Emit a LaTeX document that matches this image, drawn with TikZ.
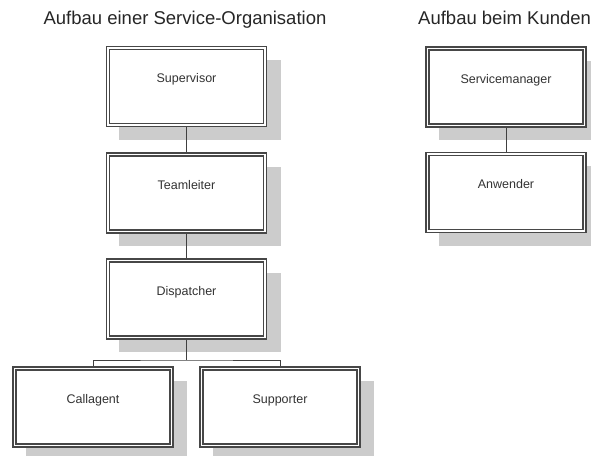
\documentclass[tikz,border=0pt]{standalone}
\usepackage{fontspec}
\setmainfont{Liberation Sans}
\usetikzlibrary{shadows}

\begin{document}
\begin{tikzpicture}[x=1pt, y=-1pt]
	\tikzset{orgbox/.style={draw=black!72, double=white, double distance=1.8pt, line width=1.2pt,
			fill=white, minimum width=157pt, minimum height=77pt, inner sep=0pt, outer sep=2.1pt,
			font=\fontsize{12.5}{14}\selectfont, text=black!80, text height=9pt, text depth=17pt,
			drop shadow={shadow xshift=13pt, shadow yshift=-13pt, shadow scale=1.03,
				fill=black!20, opacity=1}},
		link/.style={draw=black!75, line width=1pt},
		heading/.style={font=\fontsize{18.5}{22}\selectfont, text=black!85, inner sep=0pt}}
	\useasboundingbox (0,0) rectangle (591,455);
	\clip (0,0) rectangle (591,455);
	
	% headings
	\node[heading, anchor=base] (titleleft) at (185,24) {Aufbau einer Service-Organisation};
	\node[heading, anchor=base west] (titleright) at (418,24) {Aufbau beim Kunden};
	
	% service organisation
	\node[orgbox] (super) at (186.5,86.5) {Supervisor};
	\node[orgbox] (team) at (186.5,193) {Teamleiter};
	\node[orgbox] (disp) at (186.5,299) {Dispatcher};
	\node[orgbox] (call) at (93,407) {Callagent};
	\node[orgbox] (supp) at (280,407) {Supporter};
	
	% customer side
	\node[orgbox] (manager) at (506,87) {Servicemanager};
	\node[orgbox] (user) at (506,192.5) {Anwender};
	
	% connectors
	\coordinate (bus) at (186.5,360);
	\draw[link] (super) -- (team);
	\draw[link] (team) -- (disp);
	\draw[link] (disp) -- (bus);
	\draw[link] (call.north) |- (bus) -| (supp.north);
	\draw[link] (manager) -- (user);
\end{tikzpicture}
\end{document}
